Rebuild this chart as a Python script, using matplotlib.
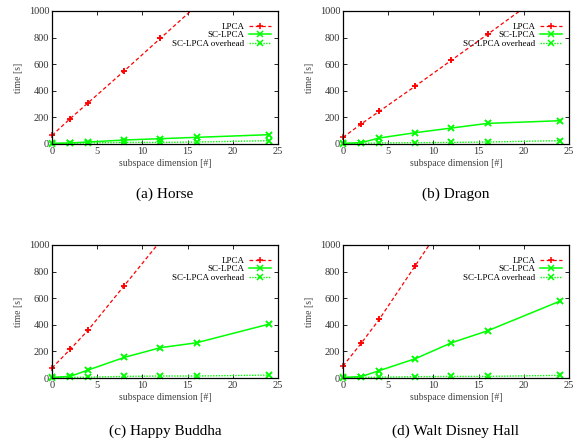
import matplotlib
matplotlib.use("Agg")
import matplotlib.pyplot as plt

plt.rcParams['font.family'] = ['Liberation Serif', 'DejaVu Serif']

# subspace dimensions measured
dims = [0, 2, 4, 8, 12, 16, 24]

# timings in seconds, one list per model
horse_lpca = [65, 190, 310, 550, 795, 1040, 1530]
horse_sc = [5, 8, 15, 30, 40, 50, 70]
horse_over = [2, 5, 8, 12, 12, 15, 25]

dragon_lpca = [50, 150, 245, 435, 630, 825, 1220]
dragon_sc = [5, 10, 45, 85, 120, 155, 175]
dragon_over = [2, 5, 8, 10, 12, 15, 25]

buddha_lpca = [75, 215, 360, 695, 1030, 1370, 2040]
buddha_sc = [5, 12, 60, 155, 228, 265, 405]
buddha_over = [2, 5, 6, 12, 15, 15, 22]

disney_lpca = [90, 260, 440, 845, 1250, 1650, 2450]
disney_sc = [5, 10, 55, 145, 265, 355, 578]
disney_over = [2, 5, 6, 10, 12, 12, 20]

captions = ['(a) Horse', '(b) Dragon', '(c) Happy Buddha', '(d) Walt Disney Hall']
series = [(horse_lpca, horse_sc, horse_over),
          (dragon_lpca, dragon_sc, dragon_over),
          (buddha_lpca, buddha_sc, buddha_over),
          (disney_lpca, disney_sc, disney_over)]

RED = '#ff0000'
GREEN = '#00ff00'
YMAX = 1000

fig = plt.figure(figsize=(5.82, 4.41), dpi=100)
W, H = 582.0, 441.0
boxes = [(52, 11), (343, 11), (52, 245), (343, 245)]
aw, ah = 226, 133


def draw(ax, x, y, color, ls, marker, label, lw):
    ax.plot(x, y, color=color, ls=ls, marker=marker, ms=5, mew=1.1, lw=lw, label=label)
    # points inside the range are drawn unclipped so edge markers stay whole
    xs = [a for a, b in zip(x, y) if b <= YMAX]
    ys = [b for b in y if b <= YMAX]
    ax.plot(xs, ys, color=color, ls='none', marker=marker, ms=5, mew=1.1, clip_on=False)


for i, ((left, top), (lpca, sc, over)) in enumerate(zip(boxes, series)):
    ax = fig.add_axes([left / W, 1 - (top + ah) / H, aw / W, ah / H])
    draw(ax, dims, lpca, RED, (0, (3, 2)), '+', 'LPCA', 0.9)
    draw(ax, dims, sc, GREEN, '-', 'x', 'SC-LPCA', 1.1)
    draw(ax, dims, over, GREEN, (0, (1, 1)), 'x', 'SC-LPCA overhead', 1.0)
    ax.set_xlim(0, 25)
    ax.set_ylim(0, YMAX)
    ax.set_xticks(range(0, 26, 5))
    ax.set_yticks(range(0, 1001, 200))
    ax.tick_params(direction='in', top=True, right=True, labelsize=7.5, labelcolor='#333333',
                   length=3, width=0.6, pad=2)
    for s in ax.spines.values():
        s.set_linewidth(0.9)
    ax.set_ylabel('time [s]', fontsize=7, labelpad=4, color='#444444')
    ax.set_xlabel('subspace dimension [#]', fontsize=7, labelpad=2, color='#444444')
    ax.legend(loc='upper right', bbox_to_anchor=(0.975, 0.925), markerfirst=False, frameon=False,
              numpoints=1, fontsize=6.5, handlelength=2.4, handletextpad=0.5, labelspacing=0.0,
              borderaxespad=0.0, borderpad=0.2)
    cx = (left + aw / 2) / W
    cy = 1 - (194 if i < 2 else 431) / H
    fig.text(cx, cy, captions[i], ha='center', va='center', fontsize=11)

fig.savefig('out.png', dpi=100)
